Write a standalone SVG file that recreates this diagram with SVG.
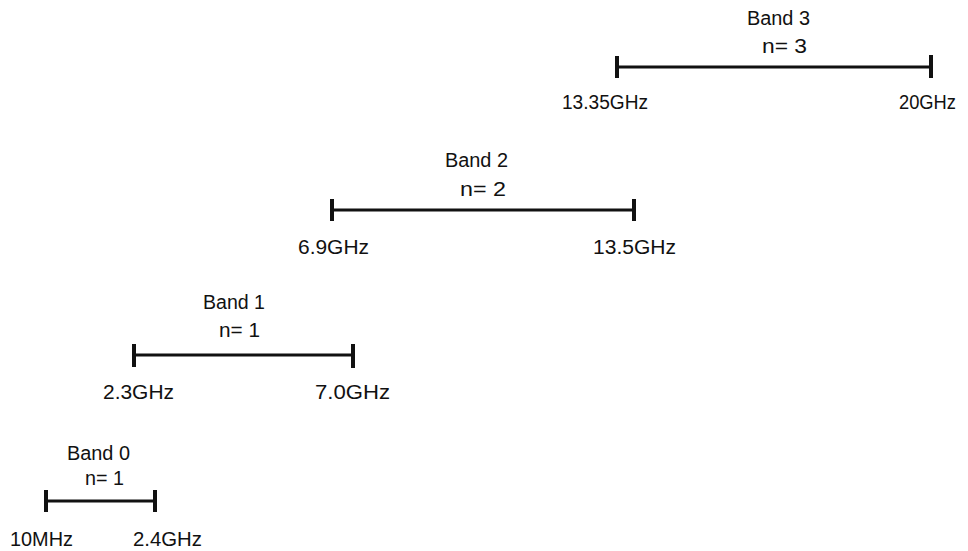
<svg xmlns="http://www.w3.org/2000/svg" width="968" height="551" viewBox="0 0 968 551">
<style>
text{font-family:"Liberation Sans",Arial,sans-serif;font-size:20px;fill:#111}
.bar{stroke:#111;stroke-width:3.2;fill:none}
.tick{stroke:#111;stroke-width:4;fill:none}
</style>
<rect width="968" height="551" fill="#fff"/>
<g id="band3">
<text x="747" y="25" textLength="63" lengthAdjust="spacingAndGlyphs">Band 3</text>
<text x="762" y="53" textLength="45" lengthAdjust="spacingAndGlyphs">n= 3</text>
<line class="bar" x1="617" y1="67" x2="931" y2="67"/>
<line class="tick" x1="617" y1="56" x2="617" y2="78"/>
<line class="tick" x1="931" y1="55" x2="931" y2="78"/>
<text x="562" y="109" textLength="86" lengthAdjust="spacingAndGlyphs">13.35GHz</text>
<text x="899" y="109" textLength="57" lengthAdjust="spacingAndGlyphs">20GHz</text>
</g>
<g id="band2">
<text x="445" y="167" textLength="63" lengthAdjust="spacingAndGlyphs">Band 2</text>
<text x="460" y="196" textLength="46" lengthAdjust="spacingAndGlyphs">n= 2</text>
<line class="bar" x1="332" y1="210" x2="634" y2="210"/>
<line class="tick" x1="332" y1="199" x2="332" y2="221"/>
<line class="tick" x1="634" y1="199" x2="634" y2="221"/>
<text x="298" y="254" textLength="71" lengthAdjust="spacingAndGlyphs">6.9GHz</text>
<text x="593" y="254" textLength="83" lengthAdjust="spacingAndGlyphs">13.5GHz</text>
</g>
<g id="band1">
<text x="203" y="309" textLength="62" lengthAdjust="spacingAndGlyphs">Band 1</text>
<text x="219" y="337" textLength="41" lengthAdjust="spacingAndGlyphs">n= 1</text>
<line class="bar" x1="134" y1="355" x2="353" y2="355"/>
<line class="tick" x1="134" y1="344" x2="134" y2="367"/>
<line class="tick" x1="353" y1="344" x2="353" y2="368"/>
<text x="103" y="399" textLength="71" lengthAdjust="spacingAndGlyphs">2.3GHz</text>
<text x="315" y="399" textLength="75" lengthAdjust="spacingAndGlyphs">7.0GHz</text>
</g>
<g id="band0">
<text x="67" y="460" textLength="63" lengthAdjust="spacingAndGlyphs">Band 0</text>
<text x="85" y="485" textLength="39" lengthAdjust="spacingAndGlyphs">n= 1</text>
<line class="bar" x1="46" y1="501" x2="155" y2="501"/>
<line class="tick" x1="46" y1="490" x2="46" y2="512"/>
<line class="tick" x1="155" y1="490" x2="155" y2="512"/>
<text x="10" y="546" textLength="63" lengthAdjust="spacingAndGlyphs">10MHz</text>
<text x="133" y="546" textLength="69" lengthAdjust="spacingAndGlyphs">2.4GHz</text>
</g>
<g id="connectors"/>
</svg>
